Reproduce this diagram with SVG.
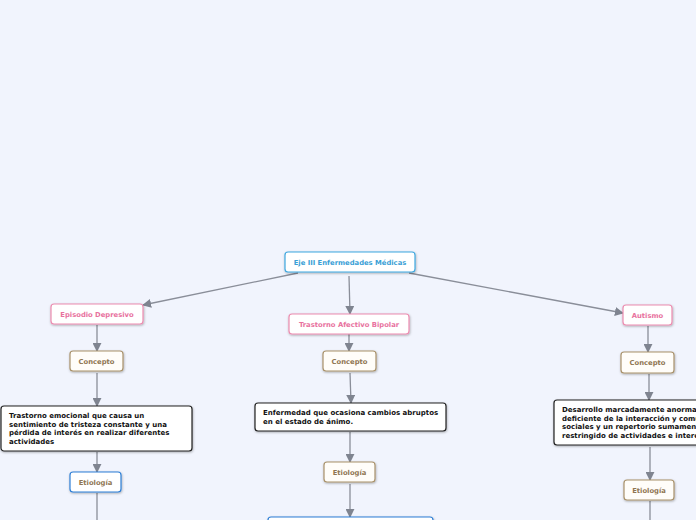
<svg xmlns="http://www.w3.org/2000/svg" width="696" height="520" viewBox="0 0 696 520">
<defs>
<marker id="arr" viewBox="0 0 10 10" refX="9" refY="5" markerWidth="9" markerHeight="9" markerUnits="userSpaceOnUse" orient="auto">
<path d="M0,0 L10,5 L0,10 z" fill="#7f8490"/>
</marker>
<filter id="sh" x="-10%" y="-20%" width="120%" height="150%">
<feDropShadow dx="0.5" dy="1" stdDeviation="0.8" flood-color="#000" flood-opacity="0.3"/>
</filter>
</defs>
<style>
text{font-family:"DejaVu Sans",Verdana,sans-serif;font-weight:bold;font-size:7px}
.lbl{text-anchor:middle;font-size:6.8px}
.n rect{fill:#fff;stroke-width:1.2;filter:url(#sh)}
.blue rect{stroke:#3fa7df}.blue text{fill:#3a9fd6}
.pink rect{stroke:#ec8cb0}.pink text{fill:#e8729e}
.brown rect{stroke:#a8916a;fill:#fffdf9}.brown text{fill:#8f7652}
.dark rect{stroke:#222}.dark text{fill:#111}
.eb rect{stroke:#2f7fd6}.eb text{fill:#8f7652}
.c{stroke:#8a8e99;stroke-width:1.3;fill:none}
.ca{stroke:#8a8e99;stroke-width:1.3;fill:none;marker-end:url(#arr)}
</style>
<rect width="696" height="520" fill="#f1f4fd"/>
<g id="connectors">
<path class="ca" d="M298,273 L143,305"/>
<path class="ca" d="M349,276 L350,314"/>
<path class="ca" d="M409,273 L623,313"/>
<path class="ca" d="M97,325 L97,351"/>
<path class="ca" d="M97,373 L97,406"/>
<path class="ca" d="M97,452 L97,472"/>
<path class="c" d="M97,493 L97,520"/>
<path class="ca" d="M349,334 L349,351"/>
<path class="ca" d="M350,373 L351,403"/>
<path class="ca" d="M350,432 L350,462"/>
<path class="ca" d="M350,484 L350,517"/>
<path class="ca" d="M648,326 L648,352"/>
<path class="ca" d="M649,374 L649,400"/>
<path class="ca" d="M650,447 L650,480"/>
<path class="c" d="M650,501 L650,520"/>
</g>
<g id="root" class="n blue"><rect x="285" y="252" width="130" height="20" rx="3"/><text class="lbl" x="350" y="264.5">Eje III Enfermedades Médicas</text></g>
<g id="episodio" class="n pink"><rect x="51" y="304" width="92" height="20" rx="3"/><text class="lbl" x="97" y="316.5">Episodio Depresivo</text></g>
<g id="concepto1" class="n brown"><rect x="70" y="351" width="53" height="20" rx="3"/><text class="lbl" x="96.5" y="363.5">Concepto</text></g>
<g id="def1" class="n dark"><rect x="1" y="406" width="191" height="45" rx="3"/>
<text x="9" y="418">Trastorno emocional que causa un</text>
<text x="9" y="426.5">sentimiento de tristeza constante y una</text>
<text x="9" y="435">pérdida de interés en realizar diferentes</text>
<text x="9" y="443.5">actividades</text></g>
<g id="etiologia1" class="n eb"><rect x="70" y="472" width="51" height="20" rx="3"/><text class="lbl" x="95.5" y="484.5">Etiología</text></g>
<g id="bipolar" class="n pink"><rect x="289" y="314" width="120" height="20" rx="3"/><text class="lbl" x="349" y="326.5">Trastorno Afectivo Bipolar</text></g>
<g id="concepto2" class="n brown"><rect x="323" y="351" width="53" height="20" rx="3"/><text class="lbl" x="349.5" y="363.5">Concepto</text></g>
<g id="def2" class="n dark"><rect x="255" y="403" width="191" height="28" rx="3"/>
<text x="263" y="415">Enfermedad que ocasiona cambios abruptos</text>
<text x="263" y="424">en el estado de ánimo.</text></g>
<g id="etiologia2" class="n brown"><rect x="324" y="462" width="51" height="20" rx="3"/><text class="lbl" x="349.5" y="474.5">Etiología</text></g>
<g id="bipolar-etio-box" class="n eb"><rect x="268" y="517" width="165" height="20" rx="3"/></g>
<g id="autismo" class="n pink"><rect x="623" y="305" width="49" height="20" rx="3"/><text class="lbl" x="647.5" y="317.5">Autismo</text></g>
<g id="concepto3" class="n brown"><rect x="621" y="352" width="53" height="21" rx="3"/><text class="lbl" x="647.5" y="365">Concepto</text></g>
<g id="def3" class="n dark"><rect x="554" y="400" width="191" height="45" rx="3"/>
<text x="562" y="412">Desarrollo marcadamente anormal y</text>
<text x="562" y="420.5">deficiente de la interacción y comunicación</text>
<text x="562" y="429">sociales y un repertorio sumamente</text>
<text x="562" y="437.5">restringido de actividades e intereses</text></g>
<g id="etiologia3" class="n brown"><rect x="624" y="480" width="50" height="20" rx="3"/><text class="lbl" x="649" y="492.5">Etiología</text></g>
</svg>
